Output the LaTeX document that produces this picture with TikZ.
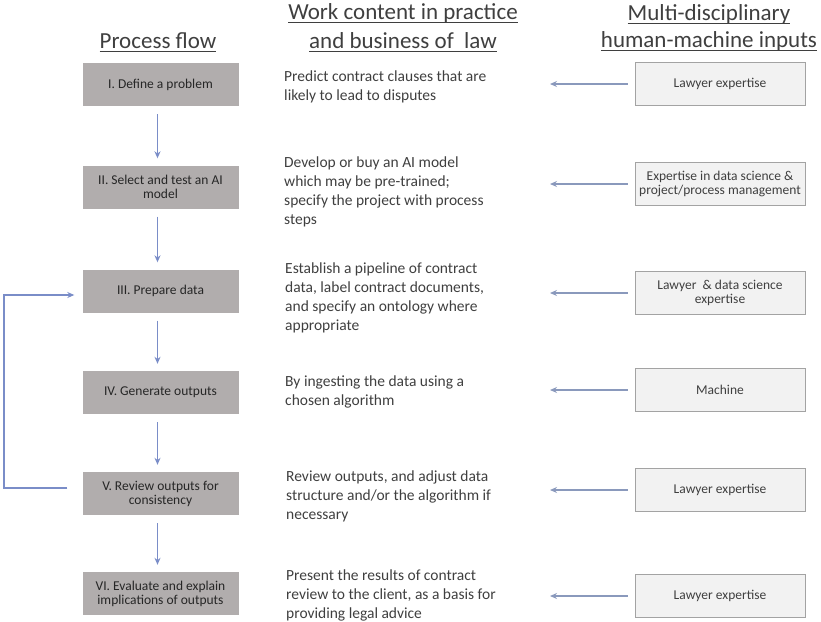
\documentclass[tikz,border=0pt]{standalone}
\usepackage{fontspec}
\setmainfont{Carlito}
\usetikzlibrary{arrows.meta,positioning,calc}
\definecolor{stepgray}{HTML}{B1ADAD}
\definecolor{inputfill}{HTML}{F2F2F2}
\definecolor{inputline}{HTML}{A3A3A3}
\definecolor{flowblue}{HTML}{7A8DC8}
\definecolor{inputblue}{HTML}{8A99BC}
\definecolor{textgray}{HTML}{3F3F3F}
\newcommand{\hdline}[1]{\leavevmode\setbox0\hbox{#1}\rlap{\rule[-3.6pt]{\wd0}{1.1pt}}\box0}

\begin{document}
\begin{tikzpicture}[x=1pt, y=-1pt]

		\tikzstyle{stepbox} = [fill=stepgray, minimum width=156pt, minimum height=43pt, align=center, inner sep=1pt, text=black!85, font=\fontsize{13.5}{14}\selectfont]
		\tikzstyle{inputbox} = [draw=inputline, fill=inputfill, line width=0.8pt, minimum width=170pt, minimum height=43pt, align=center, inner sep=1pt, text=textgray, font=\fontsize{13.5}{14}\selectfont]
		\tikzstyle{work} = [anchor=west, align=left, inner sep=0pt, text=textgray, font=\fontsize{15.5}{19}\selectfont]
		\tikzstyle{head} = [anchor=base, inner sep=0pt, text=textgray, font=\fontsize{23}{28}\selectfont]
		\tikzstyle{flow} = [-{Stealth[length=7pt, width=6pt]}, line width=1.2pt, draw=flowblue]
		\tikzstyle{inflow} = [-{Stealth[length=7pt, width=6pt]}, line width=1.2pt, draw=inputblue]

		\useasboundingbox (0,0) rectangle (821,621);

		% column headings
		\node[head] (hflow) at (158,48) {\hdline{Process flow}};
		\node[head] (hworka) at (403,19) {\hdline{Work content in practice}};
		\node[head] (hworkb) at (403,48) {\hdline{and business of\ \ law}};
		\node[head] (hinpa) at (709,20) {\hdline{Multi-disciplinary}};
		\node[head] (hinpb) at (709,47) {\hdline{human-machine inputs}};

		% process steps
		\node[stepbox] (s1) at (160.5,84.5) {I. Define a problem};
		\node[stepbox] (s2) at (160.5,187) {II. Select and test an AI\\model};
		\node[stepbox] (s3) at (160.5,291) {III. Prepare data};
		\node[stepbox] (s4) at (160.5,392.5) {IV. Generate outputs};
		\node[stepbox] (s5) at (160.5,493.5) {V. Review outputs for\\consistency};
		\node[stepbox] (s6) at (160.5,593.5) {VI. Evaluate and explain\\implications of outputs};

		% work content
		\node[work] (w1) at (284,86.5) {Predict contract clauses that are\\likely to lead to disputes};
		\node[work] (w2) at (284,191.5) {Develop or buy an AI model\\which may be pre-trained;\\specify the project with process\\steps};
		\node[work] (w3) at (285,298) {Establish a pipeline of contract\\data, label contract documents,\\and specify an ontology where\\appropriate};
		\node[work] (w4) at (285,392) {By ingesting the data using a\\chosen algorithm};
		\node[work] (w5) at (286,496) {Review outputs, and adjust data\\structure and/or the algorithm if\\necessary};
		\node[work] (w6) at (286,595) {Present the results of contract\\review to the client, as a basis for\\providing legal advice};

		% inputs
		\node[inputbox] (in1) at (720,84) {Lawyer expertise};
		\node[inputbox] (in2) at (720,184) {Expertise in data science \&\\project/process management};
		\node[inputbox] (in3) at (720,293) {Lawyer\ \ \& data science\\expertise};
		\node[inputbox] (in4) at (720,390) {Machine};
		\node[inputbox] (in5) at (720,490) {Lawyer expertise};
		\node[inputbox] (in6) at (720,596) {Lawyer expertise};

		\coordinate (intip) at (550,0);
		\coordinate (loopx) at (4,0);

		\foreach \a/\b in {s1/s2,s2/s3,s3/s4,s4/s5,s5/s6}
			\draw[flow, shorten <=8pt, shorten >=7pt] ([xshift=-3pt]\a.south) -- ([xshift=-3pt]\b.north);

		\foreach \i in {1,...,6}
			\draw[inflow, shorten <=7pt] (in\i.west) -- (in\i.west -| intip);

		\draw[flow, shorten <=15pt, shorten >=8pt] ([yshift=5.5pt]s5.west) -- ([yshift=5.5pt]s5.west -| loopx) |- ([yshift=-4pt]s3.west);

	\end{tikzpicture}
\end{document}
